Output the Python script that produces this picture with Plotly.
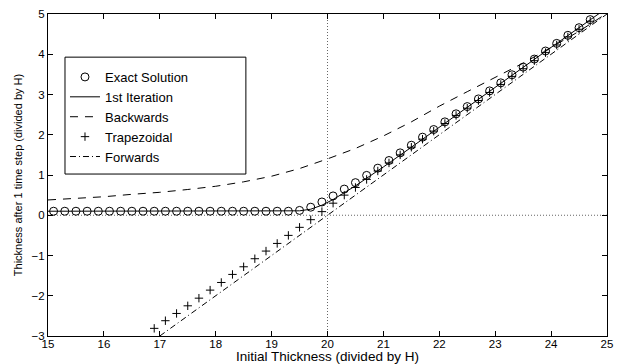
import plotly.graph_objects as go

# ---------------- data ----------------
exact_x = [15.1, 15.3, 15.5, 15.7, 15.9, 16.1, 16.3, 16.5, 16.7, 16.9,
           17.1, 17.3, 17.5, 17.7, 17.9, 18.1, 18.3, 18.5, 18.7, 18.9,
           19.1, 19.3, 19.5, 19.7, 19.9, 20.1, 20.3, 20.5, 20.7, 20.9,
           21.1, 21.3, 21.5, 21.7, 21.9, 22.1, 22.3, 22.5, 22.7, 22.9,
           23.1, 23.3, 23.5, 23.7, 23.9, 24.1, 24.3, 24.5, 24.7]
exact_y = [0.10, 0.10, 0.10, 0.10, 0.10, 0.10, 0.10, 0.10, 0.10, 0.10,
           0.10, 0.10, 0.10, 0.10, 0.10, 0.10, 0.10, 0.10, 0.10, 0.10,
           0.10, 0.10, 0.12, 0.20, 0.33, 0.48, 0.65, 0.81, 0.99, 1.17,
           1.36, 1.55, 1.74, 1.94, 2.13, 2.32, 2.52, 2.70, 2.89, 3.09,
           3.29, 3.49, 3.68, 3.88, 4.08, 4.27, 4.47, 4.66, 4.86]

iter1_x = [15.0, 19.3, 19.5, 19.7, 19.9, 20.1, 20.3, 20.5, 20.7, 21.0,
           21.5, 22.0, 22.5, 23.0, 23.5, 24.0, 24.5, 25.0]
iter1_y = [0.10, 0.10, 0.11, 0.15, 0.25, 0.39, 0.55, 0.73, 0.92, 1.20,
           1.69, 2.19, 2.68, 3.18, 3.67, 4.17, 4.66, 5.15]

back_x = [15.0, 15.5, 16.0, 16.5, 17.0, 17.5, 18.0, 18.5, 19.0, 19.5,
          20.0, 20.5, 21.0, 21.5, 22.0, 22.5, 23.0, 23.5, 24.0, 24.5, 25.0]
back_y = [0.38, 0.42, 0.46, 0.52, 0.57, 0.64, 0.72, 0.83, 0.97, 1.16,
          1.40, 1.66, 1.97, 2.32, 2.71, 3.07, 3.42, 3.78, 4.17, 4.57, 5.02]

trap_x = [16.9, 17.1, 17.3, 17.5, 17.7, 17.9, 18.1, 18.3, 18.5, 18.7,
          18.9, 19.1, 19.3, 19.5, 19.7, 19.9, 20.1, 20.3, 20.5, 20.7,
          20.9, 21.1, 21.3, 21.5, 21.7, 21.9, 22.1, 22.3, 22.5, 22.7,
          22.9, 23.1, 23.3, 23.5, 23.7, 23.9, 24.1, 24.3, 24.5, 24.7]
trap_y = [-2.81, -2.62, -2.44, -2.25, -2.06, -1.86, -1.67, -1.47, -1.28, -1.08,
          -0.89, -0.70, -0.50, -0.30, -0.11, 0.09, 0.30, 0.50, 0.69, 0.89,
          1.10, 1.30, 1.50, 1.69, 1.89, 2.09, 2.28, 2.48, 2.66, 2.85,
          3.05, 3.25, 3.45, 3.64, 3.84, 4.04, 4.23, 4.43, 4.62, 4.82]

fwd_x = [17.0, 25.0]
fwd_y = [-3.0, 5.0]

x_ticks = [15, 16, 17, 18, 19, 20, 21, 22, 23, 24, 25]
y_ticks = [-3, -2, -1, 0, 1, 2, 3, 4, 5]
ref_x = 20
ref_y = 0

# ---------------- figure ----------------
FONT = "Liberation Sans, Arial, Helvetica, sans-serif"
fig = go.Figure()

fig.add_trace(go.Scatter(x=exact_x, y=exact_y, mode="markers", name="Exact Solution",
                         marker=dict(symbol="circle-open", size=8, color="black",
                                     line=dict(width=1, color="black"))))
fig.add_trace(go.Scatter(x=iter1_x, y=iter1_y, mode="lines", name="1st Iteration",
                         line=dict(color="black", width=1)))
fig.add_trace(go.Scatter(x=back_x, y=back_y, mode="lines", name="Backwards",
                         line=dict(color="black", width=1, dash="8px,7px")))
fig.add_trace(go.Scatter(x=trap_x, y=trap_y, mode="markers", name="Trapezoidal",
                         marker=dict(symbol="cross-thin", size=6, color="black",
                                     line=dict(width=1, color="black"))))
fig.add_trace(go.Scatter(x=fwd_x, y=fwd_y, mode="lines", name="Forwards",
                         line=dict(color="black", width=1, dash="6px,3px,1px,3px")))

fig.add_vline(x=ref_x, line=dict(color="#666", width=1, dash="1px,2px"), layer="below")
fig.add_hline(y=ref_y, line=dict(color="#666", width=1, dash="1px,2px"), layer="below")

# legend frame
fig.add_shape(type="rect", xref="paper", yref="paper",
              x0=0.0304, x1=0.354, y0=0.503, y1=0.866,
              line=dict(color="black", width=1), fillcolor="white", layer="above")

axis_common = dict(showgrid=False, zeroline=False, showline=True, linecolor="black",
                   linewidth=1, mirror="ticks", ticks="inside", ticklen=5,
                   tickcolor="black", automargin=False,
                   tickfont=dict(family=FONT, size=11.5, color="black"))

fig.update_xaxes(range=[15, 25], tickvals=x_ticks, **axis_common, ticklabelstandoff=-3,
                 title=dict(text="Initial Thickness (divided by H)",
                            font=dict(family=FONT, size=13.5, color="black"), standoff=3))
fig.update_yaxes(range=[-3, 5], tickvals=y_ticks, **axis_common,
                 title=dict(text="Thickness after 1 time step (divided by H)",
                            font=dict(family=FONT, size=11, color="black"), standoff=6))

fig.update_layout(
    template="none",
    width=618, height=364,
    margin=dict(l=48, r=11, t=14, b=28),
    paper_bgcolor="white", plot_bgcolor="white",
    font=dict(family=FONT, size=11, color="black"),
    showlegend=True,
    legend=dict(x=0.0304, y=0.851, xanchor="left", yanchor="top",
                bgcolor="rgba(0,0,0,0)", borderwidth=0,
                font=dict(family=FONT, size=13, color="black")),
)

fig.write_html("out.html", config={"displayModeBar": False},
               post_script="document.body.style.margin='0px';document.body.style.overflow='hidden';")
